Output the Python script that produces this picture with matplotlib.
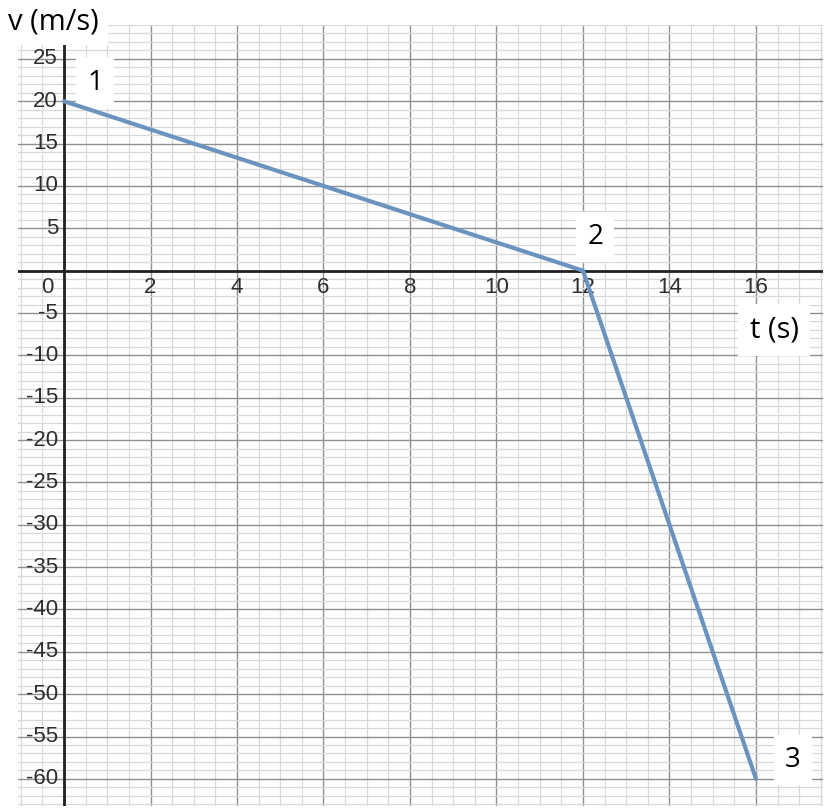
import numpy as np
import matplotlib.pyplot as plt
from matplotlib.ticker import MultipleLocator

# ── Data ──────────────────────────────────────────────────────────────────────
t_pts = [0, 12, 16]
v_pts = [20, 0, -60]
pt_names = ["1", "2", "3"]

x_ticks = [2, 4, 6, 8, 10, 12, 14, 16]
y_ticks = [25, 20, 15, 10, 5, -5, -10, -15, -20, -25, -30, -35,
           -40, -45, -50, -55, -60]

LINE = "#6b93c0"
TXT = "#2e2e2e"

fig = plt.figure(figsize=(8.28, 8.09), dpi=100)
ax = fig.add_axes([18 / 828, 1 - 806 / 809, 805 / 828, (806 - 25) / 809])

ax.set_xlim(-1.064, 17.55)
ax.set_ylim(-63.2, 29.0)

# grid
ax.xaxis.set_major_locator(MultipleLocator(2))
ax.xaxis.set_minor_locator(MultipleLocator(0.5))
ax.yaxis.set_major_locator(MultipleLocator(5))
ax.yaxis.set_minor_locator(MultipleLocator(1))
ax.grid(which="minor", color="#d8d8d8", linewidth=0.9)
ax.grid(which="major", color="#8f8f8f", linewidth=1.0)
ax.tick_params(which="both", length=0, labelleft=False, labelbottom=False)
for s in ax.spines.values():
    s.set_visible(False)

# axes lines
ax.axhline(0, color="#222222", linewidth=2.0, zorder=3)
ax.axvline(0, color="#222222", linewidth=2.0, zorder=3)

# tick labels
for x in x_ticks:
    ax.text(x, -0.8, str(x), ha="center", va="top", fontsize=16,
            color=TXT, family="Liberation Sans", zorder=4)
for y in y_ticks:
    ax.text(-0.14, y, str(y), ha="right", va="center", fontsize=16,
            color=TXT, family="Liberation Sans", zorder=4)
ax.text(-0.25, -0.8, "0", ha="right", va="top", fontsize=16,
        color=TXT, family="Liberation Sans", zorder=4)

# velocity curve
ax.plot(t_pts, v_pts, color=LINE, linewidth=3, solid_capstyle="round", zorder=7)

# point labels with white boxes
box = dict(boxstyle="square,pad=0.4", facecolor="white", edgecolor="none")
offsets = [(0.72, 2.2), (0.28, 4.0), (0.86, 2.2)]
for (tx, vy), name, (dx, dy) in zip(zip(t_pts, v_pts), pt_names, offsets):
    ax.text(tx + dx, vy + dy, name, ha="center", va="center", fontsize=20,
            color="black", family="Open Sans", bbox=box, zorder=6)

# axis titles
fig.text(8 / 828, 1 - 22 / 809, "v (m/s)", ha="left", va="center", fontsize=21,
         family="Open Sans", color="black",
         bbox=dict(boxstyle="square,pad=0.3", facecolor="white",
                   edgecolor="none"))
ax.text(16.42, -7.0, "t (s)", ha="center", va="center", fontsize=21,
        family="Open Sans", color="black",
        bbox=dict(boxstyle="square,pad=0.4", facecolor="white",
                  edgecolor="none"), zorder=6)

fig.savefig("out.png", dpi=100)
